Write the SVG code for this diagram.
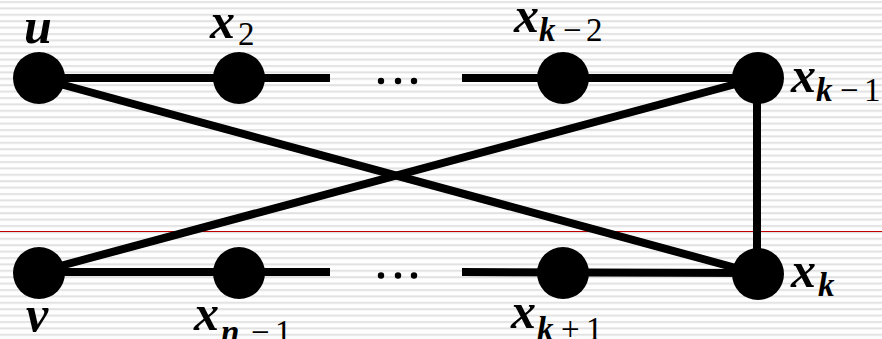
<svg xmlns="http://www.w3.org/2000/svg" width="882" height="339" viewBox="0 0 882 339">
  <defs>
    <pattern id="stripes" patternUnits="userSpaceOnUse" width="882" height="6.4">
      <rect x="0" y="0" width="882" height="6.4" fill="#ffffff"/>
      <rect x="0" y="1" width="882" height="2" fill="#e2e2e2"/>
    </pattern>
  </defs>
  <style>
    .edge { stroke: #000; stroke-width: 8; fill: none; stroke-linecap: butt; }
    .node { fill: #000; }
    .dot { fill: #000; }
    text { fill: #000; }
  </style>
  <rect x="0" y="0" width="882" height="339" fill="url(#stripes)"/>
  <line x1="0" y1="231.5" x2="882" y2="231.5" stroke="#c00000" stroke-width="1"/>

  <g id="connectors">
    <line class="edge" x1="38" y1="78" x2="330" y2="78"/>
    <line class="edge" x1="462" y1="78" x2="758" y2="78"/>
    <line class="edge" x1="38" y1="272" x2="330" y2="272"/>
    <line class="edge" x1="462" y1="272" x2="758" y2="273"/>
    <line class="edge" x1="38" y1="78" x2="758" y2="274"/>
    <line class="edge" x1="38" y1="272" x2="758" y2="78"/>
    <line class="edge" x1="757" y1="78" x2="757" y2="274"/>
  </g>

  <g id="ellipsis-top">
    <circle class="dot" cx="381" cy="81" r="3.2"/>
    <circle class="dot" cx="398" cy="81" r="3.2"/>
    <circle class="dot" cx="414" cy="81" r="3.2"/>
  </g>
  <g id="ellipsis-bottom">
    <circle class="dot" cx="381" cy="275.5" r="3.2"/>
    <circle class="dot" cx="398" cy="275.5" r="3.2"/>
    <circle class="dot" cx="414" cy="275.5" r="3.2"/>
  </g>

  <g font-family="Liberation Serif" font-size="50" font-weight="bold" font-style="italic">
  <g id="node-u">
    <circle class="node" cx="39" cy="78" r="26"/>
    <text x="24" y="43">u</text>
  </g>
  <g id="node-x2">
    <circle class="node" cx="239" cy="78" r="26"/>
    <text x="210" y="38">x</text>
    <text x="238" y="45" font-size="33" font-weight="normal" font-style="normal">2</text>
  </g>
  <g id="node-xk-2">
    <circle class="node" cx="563" cy="78" r="26"/>
    <text x="514" y="32">x</text>
    <text x="539" y="41" font-size="33">k</text>
    <text x="563" y="41" font-size="33" font-weight="normal" font-style="normal">−</text>
    <text x="586" y="41" font-size="33" font-weight="normal" font-style="normal">2</text>
  </g>
  <g id="node-xk-1">
    <circle class="node" cx="758" cy="78" r="26"/>
    <text x="791" y="92">x</text>
    <text x="816" y="101" font-size="33">k</text>
    <text x="840" y="101" font-size="33" font-weight="normal" font-style="normal">−</text>
    <text x="864" y="101" font-size="33" font-weight="normal" font-style="normal">1</text>
  </g>
  <g id="node-v">
    <circle class="node" cx="39" cy="273" r="26"/>
    <text x="26" y="331">v</text>
  </g>
  <g id="node-xn-1">
    <circle class="node" cx="239" cy="273" r="26"/>
    <text x="194" y="330">x</text>
    <text x="221" y="343" font-size="33">n</text>
    <text x="251" y="343" font-size="33" font-weight="normal" font-style="normal">−</text>
    <text x="275" y="343" font-size="33" font-weight="normal" font-style="normal">1</text>
  </g>
  <g id="node-xk+1">
    <circle class="node" cx="563" cy="273" r="26"/>
    <text x="511" y="328">x</text>
    <text x="537" y="340" font-size="33">k</text>
    <text x="561" y="340" font-size="33" font-weight="normal" font-style="normal">+</text>
    <text x="586" y="340" font-size="33" font-weight="normal" font-style="normal">1</text>
  </g>
  <g id="node-xk">
    <circle class="node" cx="758" cy="274" r="26"/>
    <text x="791" y="287">x</text>
    <text x="818" y="296" font-size="33">k</text>
  </g>
  </g>
</svg>
